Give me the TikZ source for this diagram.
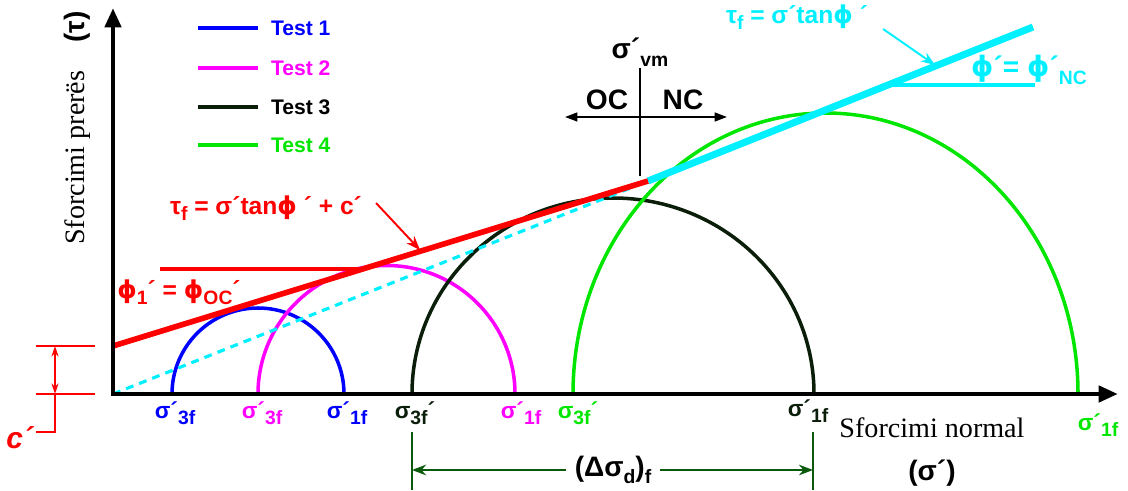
\documentclass[tikz,border=0pt]{standalone}
\usepackage{fontspec}
\setmainfont{Liberation Serif}
\newfontfamily\labfont{Liberation Sans}
\newfontfamily\phifont{DejaVu Sans}
\usetikzlibrary{arrows.meta,positioning}
\definecolor{testOne}{HTML}{0000FF}
\definecolor{testTwo}{HTML}{FF00FF}
\definecolor{testThree}{HTML}{0A1E0A}
\definecolor{testFour}{HTML}{00E600}
\definecolor{envOC}{HTML}{FF0000}
\definecolor{envNC}{HTML}{00F0FF}
\definecolor{dimLine}{HTML}{0B5A0B}
\newcommand{\dn}[1]{\raisebox{-0.5ex}{\fontsize{11}{11}\selectfont #1}}
\newcommand{\fii}{{\phifont ϕ}}

\begin{document}
\begin{tikzpicture}[
  x=0.02cm, y=0.02cm,
  leg/.style={font=\labfont\bfseries\fontsize{12}{14}\selectfont, inner sep=1pt},
  lab/.style={font=\labfont\bfseries\fontsize{13}{15}\selectfont, inner sep=1pt},
  frm/.style={font=\labfont\bfseries\fontsize{14}{16}\selectfont, inner sep=1pt},
  big/.style={font=\labfont\bfseries\fontsize{16}{18}\selectfont, inner sep=1pt},
  serif/.style={font=\fontsize{16}{18}\selectfont, inner sep=1pt},
  axis/.style={line width=2.8pt, line join=miter,
               {Triangle[length=11pt,width=9pt]}-{Triangle[length=11pt,width=9pt]}},
  circ/.style={line width=2pt},
  legline/.style={line width=2.8pt},
  note/.style={line width=1.1pt, -{Stealth[length=8pt,width=6pt]}},
  dim/.style={dimLine, line width=1.4pt}
]
\useasboundingbox (-113,-96) rectangle (1015,394);

% Mohr circles
\draw[testOne, circ]   (59,0)  arc[start angle=180, end angle=0, radius=86];
\draw[testTwo, circ]   (145,0) arc[start angle=180, end angle=0, radius=128.5];
\draw[testThree, circ] (299,0) arc[start angle=180, end angle=0, x radius=201, y radius=196];
\draw[testFour, circ]  (460,0) arc[start angle=180, end angle=0, x radius=252.5, y radius=281];

% failure envelopes
\coordinate (O)     at (0,0);
\coordinate (M)     at (535,213);
\coordinate (cTop)  at (0,48);
\coordinate (NCend) at (920,367);
\draw[envNC, line width=1.8pt, dash pattern=on 4.5pt off 3.5pt] (O) -- (M);
\draw[envNC, line width=4pt] (M) -- (NCend);
\draw[envOC, line width=3.2pt] (cTop) -- (M);
\draw[envOC, circ] (47,125) -- (250,125);
\draw[envNC, circ] (777,309) -- (922,309);

% axes
\coordinate (ytip) at (0,386);
\coordinate (xtip) at (1005,0);
\draw[axis] (ytip) -- (O) -- (xtip);

% legend
\draw[legline, testOne]   (85,366) -- (145,366) node[leg, right=5pt, text=testOne]   (leg1) {Test 1};
\draw[legline, testTwo]   (85,326) -- (145,326) node[leg, right=5pt, text=testTwo]   (leg2) {Test 2};
\draw[legline, testThree] (85,287) -- (145,287) node[leg, right=5pt, text=black]     (leg3) {Test 3};
\draw[legline, testFour]  (85,249) -- (145,249) node[leg, right=5pt, text=testFour]  (leg4) {Test 4};

% envelope labels
\node[frm, envOC] (tauOC) at (153,186) {τ\dn{f} = σ´tan\fii\ ´ + c´};
\coordinate (pOC) at (307,144);
\draw[note, envOC] ([shift={(12,5)}]tauOC.east) -- (pOC);
\node[frm, envOC] (phiOC) at (66,102) {\fii\dn{1}´ = \fii\dn{OC}´};

\node[frm, envNC] (tauNC) at (684,377) {τ\dn{f} = σ´tan\fii\ ´};
\coordinate (pNC) at (822,329);
\draw[note, envNC] ([shift={(13,-12)}]tauNC.east) -- (pNC);
\node[big, envNC] (phiNC) at (916,324) {\fii´= \fii´\dn{NC}};

% preconsolidation
\node[big] (svm) at (527,342) {σ´\dn{vm}};
\coordinate (vmBot) at (527,218);
\draw[line width=1.1pt] (svm.south) -- (vmBot);
\coordinate (ocEnd) at (452,277);
\coordinate (ncEnd) at (614,277);
\draw[line width=1.1pt, {Triangle[length=7pt,width=5pt]}-{Triangle[length=7pt,width=5pt]}] (ocEnd) -- (ncEnd);
\node[big] (oc) at (494,294) {OC};
\node[big] (nc) at (570,294) {NC};

% cohesion
\coordinate (cBot) at (-58,0);
\draw[envOC, line width=1.1pt] (-77,48) -- (-18,48);
\draw[envOC, line width=1.1pt] (-77,0) -- (-18,0);
\draw[envOC, line width=1.1pt, {Stealth[length=6pt,width=4pt]}-{Stealth[length=6pt,width=4pt]}] (-58,48) -- (cBot);
\draw[envOC, line width=1.1pt] (cBot) -- (-58,-38) -- (-77,-38);
\node[big, envOC, font=\labfont\bfseries\itshape\fontsize{17}{19}\selectfont, anchor=east] (cLab) at (-78,-44) {c´};

% stresses on the axis
\node[lab, testOne]   (s3One)   at (62,-19)  {σ´\dn{3f}};
\node[lab, testTwo]   (s3Two)   at (149,-19) {σ´\dn{3f}};
\node[lab, testOne]   (s1One)   at (234,-19) {σ´\dn{1f}};
\node[lab, testThree] (s3Three) at (302,-19) {σ\dn{3f}´};
\node[lab, testTwo]   (s1Two)   at (408,-19) {σ´\dn{1f}};
\node[lab, testFour]  (s3Four)  at (465,-19) {σ\dn{3f}´};
\node[lab, testThree] (s1Three) at (695,-17) {σ´\dn{1f}};
\node[lab, testFour]  (s1Four)  at (985,-31) {σ´\dn{1f}};

% axis titles
\node[serif] (xLab) at (819,-34) {Sforcimi normal};
\node[big, below=0.35cm of xLab] (xSym) {(σ´)};
\node[serif, rotate=90] (yLab) at (-36,266) {Sforcimi prerës\quad{\labfont\bfseries(τ)}};

% deviator stress
\coordinate (dL) at (299,-38);
\coordinate (dR) at (700,-38);
\draw[dim] (dL) -- (299,-96);
\draw[dim] (dR) -- (700,-96);
\node[big, inner sep=5pt] (dSig) at (500,-76) {(Δσ\dn{d})\dn{f}};
\draw[dim, -{Stealth[length=8pt,width=6pt]}] (dSig.west) -- (dSig.west-|dL);
\draw[dim, -{Stealth[length=8pt,width=6pt]}] (dSig.east) -- (dSig.east-|dR);
\end{tikzpicture}
\end{document}
